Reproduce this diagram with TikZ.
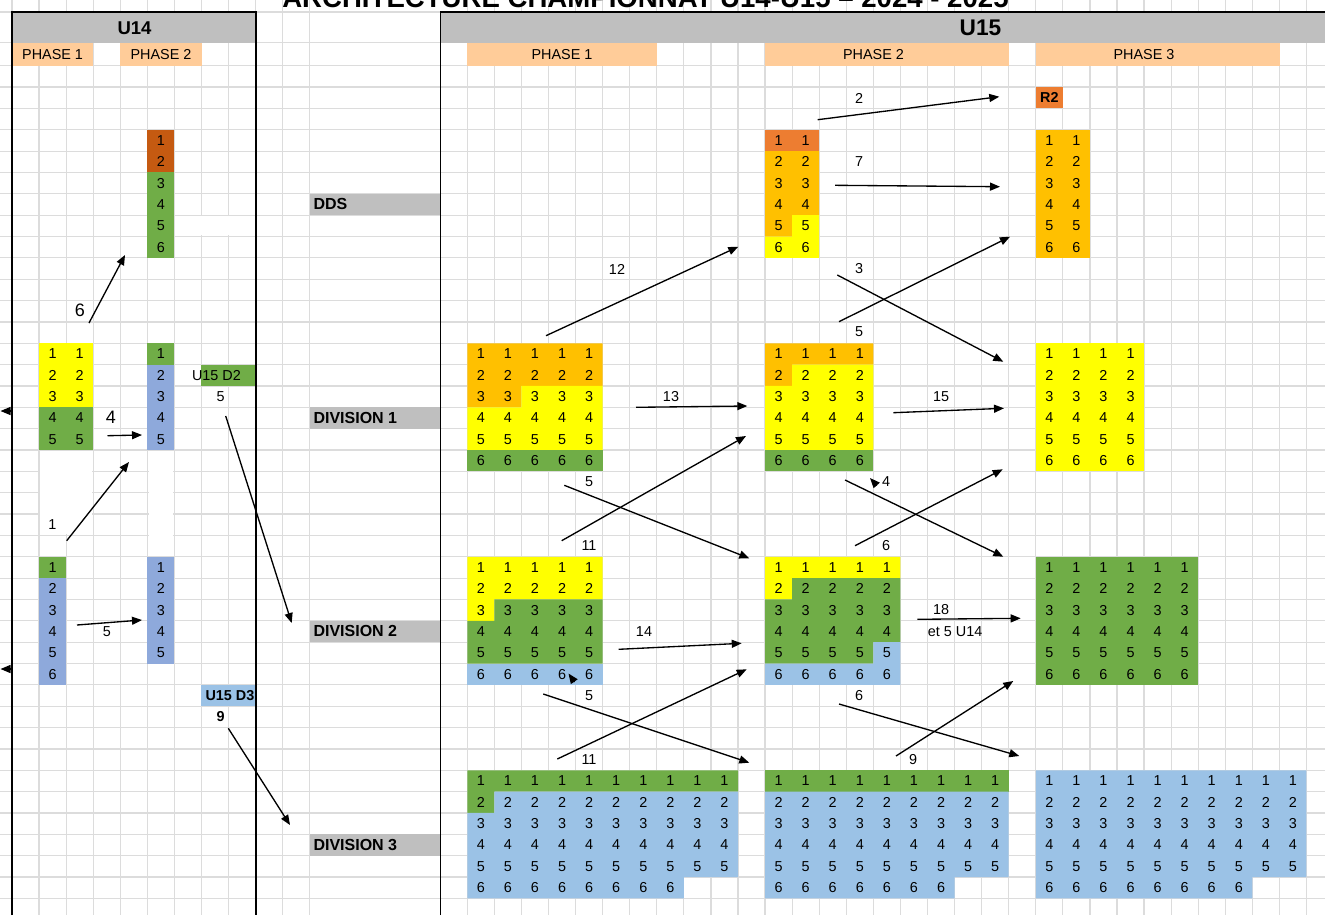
\documentclass[tikz,border=0pt]{standalone}
\usepackage{fontspec}
\setmainfont{Liberation Sans}
\usetikzlibrary{arrows.meta}
\definecolor{mgrey}{HTML}{BFBFBF}
\definecolor{mpeach}{HTML}{FFCC99}
\definecolor{mgold}{HTML}{FFC000}
\definecolor{morange}{HTML}{ED7D31}
\definecolor{mbrown}{HTML}{C55A11}
\definecolor{myellow}{HTML}{FFFF00}
\definecolor{mgreen}{HTML}{70AD47}
\definecolor{mblue}{HTML}{9BC2E6}
\definecolor{mblueb}{HTML}{8EA9DB}
\definecolor{mgrid}{HTML}{DCDCDC}
\tikzset{num/.style = {font = \fontsize{10.8}{13}\selectfont, inner sep = 0}}
\tikzset{lbl/.style = {font = \fontsize{12}{14}\selectfont\bfseries, inner sep = 0, anchor = west}}
\tikzset{arr/.style = {line width = 1pt, -{Triangle[length = 7.5pt, width = 6pt]}}}
\tikzset{gridline/.style = {mgrid, line width = 0.9pt}}
\tikzset{u14grid/.style = {xshift = 9pt, yshift = -49.275pt, x = 20.3025pt, y = -16.0125pt}}
\tikzset{u15grid/.style = {xshift = 330.1725pt, yshift = -49.275pt, x = 20.3025pt, y = -16.0125pt}}

\begin{document}
\begin{tikzpicture}[x = 0.75pt, y = -0.75pt]
  \useasboundingbox (0, 0) rectangle (1325, 915);

  % grid
  \foreach \y in {12, 42.7, 65.7} {
    \draw [gridline] (0, \y) -- (1325, \y);
  }
  \foreach \r in {1,...,40} {
    \draw [gridline] (0, {65.7 + 21.35*\r}) -- (1325, {65.7 + 21.35*\r});
  }
  \foreach \c in {0,...,11} {
    \draw [gridline] ({12 + 27.07*\c}, 0) -- ({12 + 27.07*\c}, 915);
  }
  \foreach \k in {1,...,32} {
    \draw [gridline] ({440.23 + 27.07*\k}, 0) -- ({440.23 + 27.07*\k}, 915);
  }

  \node [anchor = base west, inner sep = 0, font = \fontsize{20.7}{24}\selectfont\bfseries] (title) at (282, 7.5) {ARCHITECTURE CHAMPIONNAT U14-U15 – 2024 - 2025};

  % headers
  \fill [mgrey] (12, 12) rectangle (256, 42.7);
  \fill [mgrey] (440.7, 12) rectangle (1325, 42.7);
  \node [font = \fontsize{13.9}{16}\selectfont\bfseries] (u14) at (134.5, 28) {U14};
  \node [font = \fontsize{17}{20}\selectfont\bfseries] (u15) at (980.5, 28) {U15};
  \fill [mpeach] (12, 42.7) rectangle (93.2, 65.7);
  \fill [mpeach] (120.3, 42.7) rectangle (201.5, 65.7);
  \fill [mpeach] (467.3, 42.7) rectangle (656.8, 65.7);
  \fill [mpeach] (765.1, 42.7) rectangle (1008.7, 65.7);
  \fill [mpeach] (1035.8, 42.7) rectangle (1279.5, 65.7);
  \node [num] (ph14a) at (52.6, 54.5) {PHASE 1};
  \node [num] (ph14b) at (161, 54.5) {PHASE 2};
  \node [num] (ph15a) at (562, 54.5) {PHASE 1};
  \node [num] (ph15b) at (873.5, 54.5) {PHASE 2};
  \node [num] (ph15c) at (1144, 54.5) {PHASE 3};

  \begin{scope}[u14grid]
    \fill [white] (6.05, 7.05) rectangle (8.95, 7.95);
    \fill [white] (1.05, 18.05) rectangle (2.95, 21.95);
    \fill [white] (5.05, 18.05) rectangle (5.95, 22.95);

    \fill [mbrown] (5, 3) rectangle (6, 5);
    \fill [mgreen] (5, 5) rectangle (6, 9);
    \foreach \r in {1,...,6} {
      \node [num] (u14b-\r) at (5.5, {2.5 + \r}) {\r};
    }
    \fill [myellow] (1, 13) rectangle (3, 16);
    \fill [mgreen] (1, 16) rectangle (3, 18);
    \foreach \r in {1,...,5} {
      \foreach \i in {1, 2} {
        \node [num] (u14a-\r-\i) at ({\i + 0.5}, {12.5 + \r}) {\r};
      }
    }
    \fill [mgreen] (5, 13) rectangle (6, 14);
    \fill [mblueb] (5, 14) rectangle (6, 18);
    \foreach \r in {1,...,5} {
      \node [num] (u14c-\r) at (5.5, {12.5 + \r}) {\r};
    }
    \fill [mgreen] (7, 14) rectangle (9, 15);
    \node [num, anchor = west] (d2) at (6.64, 14.5) {U15 D2};
    \fill [mgreen] (1, 23) rectangle (2, 24);
    \fill [mblueb] (1, 24) rectangle (2, 29);
    \foreach \r in {1,...,6} {
      \node [num] (u14d-\r) at (1.5, {22.5 + \r}) {\r};
    }
    \fill [mblueb] (5, 23) rectangle (6, 28);
    \foreach \r in {1,...,5} {
      \node [num] (u14e-\r) at (5.5, {22.5 + \r}) {\r};
    }
    \fill [mblue] (7, 29) rectangle (9, 30);
    \node [num, font = \fontsize{10.8}{13}\selectfont\bfseries] (d3) at (8.05, 29.5) {U15 D3};

    % division labels
    \foreach \n/\r/\t in {dds/6/DDS, div1/16/DIVISION 1, div2/26/DIVISION 2, div3/36/DIVISION 3} {
      \fill [mgrey] (11, \r) rectangle (15.84, \r + 1);
      \node [lbl] (\n) at (11.13, \r + 0.5) {\t};
    }
  \end{scope}

  \begin{scope}[u15grid]
    % phase 1
    \fill [mgold] (1, 13) rectangle (6, 15) (1, 15) rectangle (3, 16);
    \fill [myellow] (3, 15) rectangle (6, 16) (1, 16) rectangle (6, 18);
    \fill [mgreen] (1, 18) rectangle (6, 19);
    \fill [myellow] (1, 23) rectangle (6, 25) (1, 25) rectangle (2, 26);
    \fill [mgreen] (2, 25) rectangle (6, 26) (1, 26) rectangle (6, 28);
    \fill [mblue] (1, 28) rectangle (6, 29);
    \fill [mgreen] (1, 33) rectangle (11, 34) (1, 34) rectangle (2, 35);
    \fill [mblue] (2, 34) rectangle (11, 35) (1, 35) rectangle (11, 38) (1, 38) rectangle (9, 39);
    % phase 2
    \fill [morange] (12, 3) rectangle (14, 4);
    \fill [mgold] (12, 4) rectangle (14, 7) (12, 7) rectangle (13, 8);
    \fill [myellow] (13, 7) rectangle (14, 8) (12, 8) rectangle (14, 9);
    \fill [mgold] (12, 13) rectangle (16, 14) (12, 14) rectangle (13, 15);
    \fill [myellow] (13, 14) rectangle (16, 15) (12, 15) rectangle (16, 18);
    \fill [mgreen] (12, 18) rectangle (16, 19);
    \fill [myellow] (12, 23) rectangle (17, 24) (12, 24) rectangle (13, 25);
    \fill [mgreen] (13, 24) rectangle (17, 25) (12, 25) rectangle (17, 27) (12, 27) rectangle (16, 28);
    \fill [mblue] (16, 27) rectangle (17, 28) (12, 28) rectangle (17, 29);
    \fill [mgreen] (12, 33) rectangle (21, 34);
    \fill [mblue] (12, 34) rectangle (21, 38) (12, 38) rectangle (19, 39);
    % phase 3
    \fill [morange] (22, 1) rectangle (23, 2);
    \node [num, font = \fontsize{10.8}{13}\selectfont\bfseries] (r2) at (22.5, 1.5) {R2};
    \fill [mgold] (22, 3) rectangle (24, 9);
    \fill [myellow] (22, 13) rectangle (26, 19);
    \fill [mgreen] (22, 23) rectangle (28, 29);
    \fill [mblue] (22, 33) rectangle (32, 38) (22, 38) rectangle (30, 39);

    \foreach \b/\k/\t/\w/\l in {p1a/1/13/5/5, p1b/1/23/5/5, p1c/1/33/10/8, p2a/12/3/2/2, p2b/12/13/4/4, p2c/12/23/5/5, p2d/12/33/9/7, p3a/22/3/2/2, p3b/22/13/4/4, p3c/22/23/6/6, p3d/22/33/10/8} {
      \foreach \r in {1,...,6} {
        \pgfmathtruncatemacro\m{\r == 6 ? \l : \w}
        \foreach \i in {1,...,\m} {
          \node [num] (\b-\r-\i) at ({\k + \i - 0.5}, {\t + \r - 0.5}) {\r};
        }
      }
    }
  \end{scope}

  % boxes
  \draw [line width = 1pt] (12, 915) -- (12, 12) -- (256, 12) -- (256, 915);
  \draw [line width = 1pt] (440.7, 915) -- (440.7, 12) -- (1325, 12);

  % arrows
  \foreach \n/\xa/\ya/\xb/\yb in {a1/89/323/125/255, a2/107.5/435.7/142/435, a3/66.7/540.7/129/462, a4/77/625/142/620, a5/225.7/416/291.7/623, a6/228.3/728.3/290/825, a7/11/411/0.5/411, a8/11/669/0.5/669, b1/817.7/119.7/999.3/96.7, b2/835/185.3/1000/186.7, b3/546/335.7/738.3/246.7, b4/837.3/275/1003.3/361.7, b5/839/321.7/1010/236.7, b6/636/407.3/747.3/406, b7/893.3/412.7/1004/408.3, b8/564.3/485.3/749.3/558.3, b9/561.7/540.7/746/436, b10/845/480/1003.3/556.7, b11/855/545.7/1002.7/469.3, b12/618.7/649.3/741.7/643.3, b13/917.3/619.3/1020.7/618.3, b14/543.3/694/749.3/762.7, b15/557.3/759/746.7/669.3, b16/839/704/1019.3/756, b17/896/756/1013.3/681, c1/876.8/485.5/870/478, c2/574.5/682/568.5/673.5} {
    \coordinate (\n-s) at (\xa, \ya);
    \coordinate (\n-e) at (\xb, \yb);
    \draw [arr] (\n-s) -- (\n-e);
  }

  \node [num, font = \fontsize{13.5}{16}\selectfont] (la1) at (80, 310) {6};
  \node [num, font = \fontsize{13.5}{16}\selectfont] (la2) at (111, 417) {4};
  \node [num, font = \fontsize{10.8}{13}\selectfont\bfseries] (la6) at (220.7, 717) {9};
  \foreach \n/\x/\y/\t in {la3/52.5/525/1, la4/107/632/5, la5/220.7/397/5, lb1/859/98/2, lb2/859/162/7, lb3/617/269/12, lb4/859/269/3, lb5/859/332/5, lb6/671/397/13, lb7/941/397/15, lb8/589/482/5, lb9/589/546/11, lb10/886/482/4, lb11/886/546/6, lb12/644/632/14, lb13/941/610/18, lb14/589/696/5, lb15/589/760/11, lb16/859/696/6, lb17/913/760/9} {
    \node [num] (\n) at (\x, \y) {\t};
  }
  \begin{scope}
    \clip (920, 621) rectangle (981.7, 643);
    \node [num, anchor = west] (et5) at (927.7, 632) {et 5 U14};
  \end{scope}
\end{tikzpicture}
\end{document}
